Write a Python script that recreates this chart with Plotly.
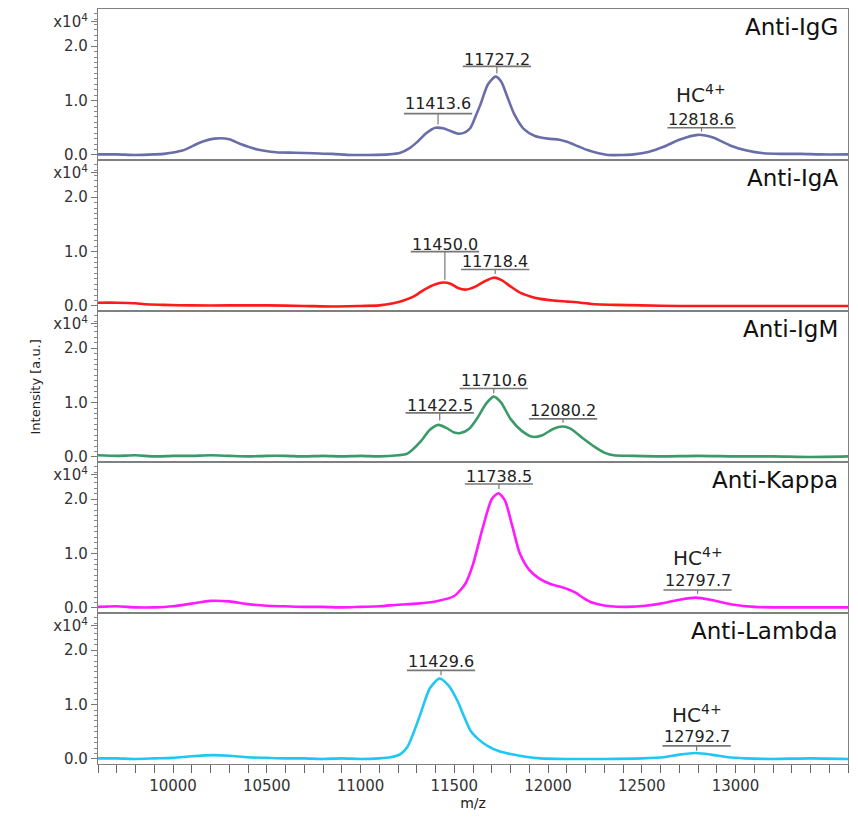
import plotly.graph_objects as go
from plotly.subplots import make_subplots

# ---------------- data (m/z, intensity x10^4) ----------------
panel_titles = ["Anti-IgG", "Anti-IgA", "Anti-IgM", "Anti-Kappa", "Anti-Lambda"]
line_colors = ["#6a6ea8", "#ff1a1a", "#3a9a68", "#ff1aff", "#1ec8f2"]

igg_x = [9600, 9700, 9800, 9900, 9950, 10050, 10145, 10220, 10300, 10360, 10450, 10550, 10650, 10750,
         10850, 10950, 11050, 11150, 11213, 11260, 11303, 11350, 11400, 11440, 11480, 11523, 11560,
         11587, 11615, 11640, 11680, 11720, 11750, 11784, 11820, 11870, 11930, 12000, 12060, 12105,
         12160, 12210, 12270, 12318, 12400, 12457, 12540, 12617, 12700, 12800, 12880, 12975, 13060,
         13150, 13250, 13350, 13450, 13600]
igg_y = [0.01, 0.01, 0.0, 0.01, 0.02, 0.08, 0.23, 0.30, 0.29, 0.20, 0.10, 0.05, 0.04, 0.03,
         0.02, 0.0, 0.0, 0.01, 0.04, 0.12, 0.24, 0.40, 0.50, 0.49, 0.44, 0.39, 0.42,
         0.50, 0.72, 0.93, 1.30, 1.44, 1.35, 1.06, 0.75, 0.48, 0.35, 0.30, 0.28, 0.24,
         0.16, 0.09, 0.03, 0.0, 0.0, 0.01, 0.06, 0.15, 0.28, 0.37, 0.32, 0.17, 0.08,
         0.03, 0.02, 0.02, 0.01, 0.01]

iga_x = [9600, 9700, 9800, 9850, 9950, 10100, 10300, 10500, 10700, 10850, 11000, 11100, 11175,
         11230, 11282, 11340, 11400, 11440, 11480, 11520, 11560, 11610, 11660, 11710, 11750, 11800,
         11854, 11910, 11960, 12030, 12105, 12174, 12250, 12350, 12500, 12700, 12900, 13100, 13300,
         13600]
iga_y = [0.06, 0.06, 0.05, 0.03, 0.02, 0.01, 0.01, 0.01, 0.0, -0.01, 0.0, 0.01, 0.05,
         0.10, 0.17, 0.30, 0.40, 0.43, 0.41, 0.33, 0.30, 0.35, 0.45, 0.52, 0.48, 0.36,
         0.24, 0.17, 0.13, 0.10, 0.08, 0.06, 0.03, 0.02, 0.01, 0.0, 0.0, 0.0, 0.0,
         0.0]

igm_x = [9600, 9700, 9800, 9900, 10000, 10100, 10200, 10300, 10400, 10500, 10600, 10700, 10800,
         10900, 11000, 11100, 11200, 11250, 11320, 11370, 11416, 11460, 11500, 11533, 11580, 11624,
         11670, 11710, 11750, 11800, 11860, 11918, 11970, 12030, 12078, 12120, 12180, 12243, 12300,
         12350, 12450, 12600, 12800, 13000, 13200, 13400, 13600]
igm_y = [0.03, 0.02, 0.03, 0.01, 0.02, 0.02, 0.03, 0.02, 0.01, 0.02, 0.02, 0.01, 0.02,
         0.01, 0.02, 0.01, 0.03, 0.06, 0.28, 0.50, 0.59, 0.53, 0.45, 0.44, 0.52, 0.72,
         0.98, 1.11, 1.00, 0.70, 0.48, 0.37, 0.40, 0.52, 0.56, 0.52, 0.36, 0.20, 0.08,
         0.03, 0.02, 0.01, 0.02, 0.01, 0.01, 0.0, 0.01]

kappa_x = [9600, 9700, 9800, 9900, 10000, 10100, 10200, 10300, 10400, 10500, 10600, 10700, 10800,
           10900, 11000, 11100, 11200, 11300, 11400, 11500, 11560, 11600, 11650, 11700, 11735,
           11770, 11810, 11850, 11900, 11950, 12020, 12067, 12110, 12147, 12190, 12227, 12280, 12334,
           12425, 12520, 12601, 12700, 12788, 12880, 12991, 13100, 13205, 13300, 13600]
kappa_y = [0.02, 0.03, 0.01, 0.01, 0.03, 0.08, 0.13, 0.12, 0.07, 0.04, 0.03, 0.02, 0.02,
           0.01, 0.02, 0.03, 0.06, 0.08, 0.12, 0.22, 0.45, 0.80, 1.45, 2.00, 2.11,
           1.98, 1.50, 1.00, 0.70, 0.55, 0.43, 0.39, 0.34, 0.28, 0.18, 0.11, 0.06, 0.03,
           0.02, 0.04, 0.08, 0.15, 0.19, 0.14, 0.06, 0.02, 0.01, 0.01, 0.01]

lambda_x = [9600, 9700, 9800, 9900, 10000, 10100, 10214, 10300, 10400, 10500, 10600, 10700, 10800,
            10900, 11000, 11100, 11160, 11213, 11250, 11285, 11320, 11370, 11421, 11470, 11517,
            11550, 11587, 11630, 11677, 11740, 11800, 11880, 11960, 12100, 12300, 12500, 12617,
            12700, 12788, 12870, 12960, 13050, 13200, 13400, 13600]
lambda_y = [0.01, 0.01, 0.0, 0.01, 0.02, 0.05, 0.07, 0.06, 0.03, 0.02, 0.01, 0.01, 0.0,
            0.01, 0.0, 0.01, 0.03, 0.09, 0.22, 0.50, 0.83, 1.30, 1.48, 1.35, 1.07,
            0.80, 0.52, 0.36, 0.24, 0.14, 0.09, 0.04, 0.01, 0.0, 0.0, 0.01, 0.03,
            0.08, 0.11, 0.08, 0.03, 0.01, 0.0, 0.01, 0.0]

series_x = [igg_x, iga_x, igm_x, kappa_x, lambda_x]
series_y = [igg_y, iga_y, igm_y, kappa_y, lambda_y]

# peak labels: panel index, m/z value
peak_panel = [0, 0, 0, 1, 1, 2, 2, 2, 3, 3, 4, 4]
peak_mz = [11413.6, 11727.2, 12818.6, 11450.0, 11718.4, 11422.5, 11710.6, 12080.2,
           11738.5, 12797.7, 11429.6, 12792.7]
peak_hc = [False, False, True, False, False, False, False, False, False, True, False, True]

y_tickvals = [0, 1, 2, 2.45]
y_ticktext = ["0.0", "1.0", "2.0", "x10<sup>4</sup>"]
x_tickvals = [10000, 10500, 11000, 11500, 12000, 12500, 13000]
x_ticktext = ["10000", "10500", "11000", "11500", "12000", "12500", "13000"]

# ---------------- layout helpers (positions, not data) ----------------
# (text y, bar y, tick bottom y) in panel units
label_pos = [(0.94, 0.76, 0.56), (1.76, 1.63, 1.50), (0.65, 0.50, 0.43),
             (1.13, 1.00, 0.48), (0.81, 0.67, 0.59),
             (0.94, 0.81, 0.67), (1.41, 1.26, 1.17), (0.85, 0.70, 0.63),
             (2.41, 2.28, 2.19), (0.50, 0.33, 0.26),
             (1.80, 1.63, 1.54), (0.41, 0.24, 0.15)]
hc_text_y = {2: 1.13, 9: 0.94, 11: 0.83}
BAR_HALF = 182

FONT = "DejaVu Sans, sans-serif"

fig = make_subplots(rows=5, cols=1, shared_xaxes=True, vertical_spacing=0)

for i in range(5):
    fig.add_trace(go.Scatter(x=series_x[i], y=series_y[i], mode="lines",
                             line=dict(color=line_colors[i], width=2.6, shape="spline", smoothing=0.7),
                             hoverinfo="skip"), row=i + 1, col=1)

annotations = []
shapes = []
for k, (p, mz) in enumerate(zip(peak_panel, peak_mz)):
    xr = "x" if p == 0 else f"x{p + 1}"
    yr = "y" if p == 0 else f"y{p + 1}"
    ty, by, tb = label_pos[k]
    annotations.append(dict(x=mz, y=ty, xref=xr, yref=yr, text=f"{mz:.1f}", showarrow=False,
                            font=dict(family=FONT, size=16, color="#222"), xanchor="center",
                            yanchor="middle"))
    shapes.append(dict(type="line", xref=xr, yref=yr, x0=mz - BAR_HALF, x1=mz + BAR_HALF,
                       y0=by, y1=by, line=dict(color="#777", width=1.6)))
    shapes.append(dict(type="line", xref=xr, yref=yr, x0=mz, x1=mz, y0=by, y1=tb,
                       line=dict(color="#777", width=1.2)))
    if peak_hc[k]:
        annotations.append(dict(x=mz, y=hc_text_y[k], xref=xr, yref=yr, text="HC<sup>4+</sup>",
                                showarrow=False, font=dict(family=FONT, size=20, color="#222"),
                                xanchor="center", yanchor="middle"))

for i, t in enumerate(panel_titles):
    xr = "x domain" if i == 0 else f"x{i + 1} domain"
    yr = "y domain" if i == 0 else f"y{i + 1} domain"
    annotations.append(dict(x=0.989, y=0.882, xref=xr, yref=yr, text=t, showarrow=False,
                            xanchor="right", yanchor="middle",
                            font=dict(family=FONT, size=23, color="#111")))

annotations.append(dict(x=-0.084, y=0.5, xref="paper", yref="paper", text="Intensity [a.u.]",
                        textangle=-90, showarrow=False, xanchor="center", yanchor="middle",
                        font=dict(family=FONT, size=13, color="#222")))

fig.update_layout(width=858, height=817, margin=dict(l=98, r=10, t=8, b=48),
                  plot_bgcolor="white", paper_bgcolor="white", showlegend=False,
                  annotations=annotations, shapes=shapes,
                  font=dict(family=FONT, size=15, color="#333"))

for i in range(1, 6):
    fig.update_yaxes(range=[-0.093, 2.685], tickvals=y_tickvals, ticktext=y_ticktext,
                     ticks="outside", ticklen=6, tickcolor="#777", showline=True, mirror=True,
                     linecolor="#808080", linewidth=1.2, showgrid=False, zeroline=False,
                     minor=dict(dtick=0.1, tick0=0, ticks="outside", ticklen=3, tickcolor="#888"),
                     tickfont=dict(family=FONT, size=15, color="#333"), row=i, col=1)
    fig.update_xaxes(range=[9600, 13600], showline=True, mirror=True, linecolor="#808080",
                     linewidth=1.2, showgrid=False, zeroline=False, row=i, col=1)
    if i < 5:
        fig.update_xaxes(ticks="", showticklabels=False, row=i, col=1)

fig.update_xaxes(tickvals=x_tickvals, ticktext=x_ticktext, ticks="outside", ticklen=8,
                 tickcolor="#666", showticklabels=True,
                 minor=dict(dtick=100, tick0=9600, ticks="outside", ticklen=8, tickcolor="#666"),
                 tickfont=dict(family=FONT, size=15, color="#333"),
                 title=dict(text="m/z", standoff=4, font=dict(family=FONT, size=14, color="#222")),
                 row=5, col=1)

fig.write_html("out.html")
